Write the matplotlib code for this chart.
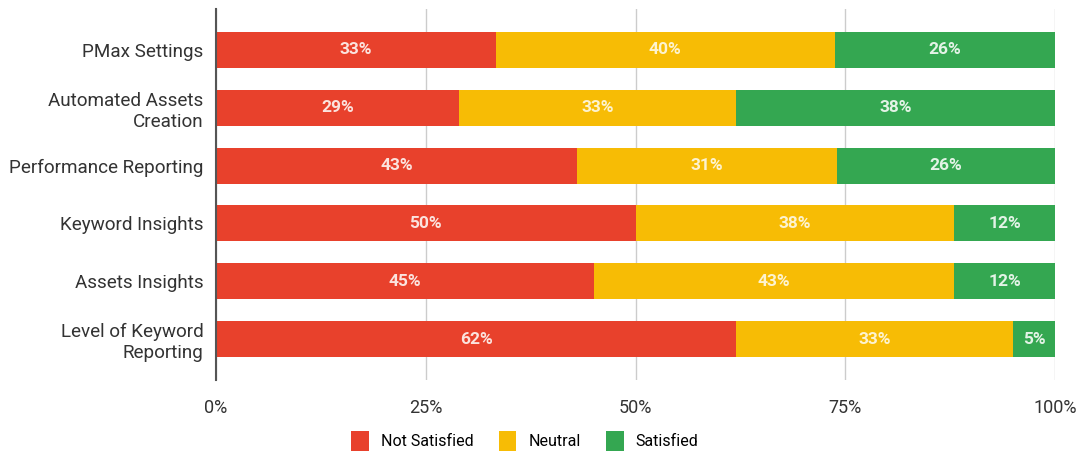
import matplotlib
matplotlib.use("Agg")
import matplotlib.pyplot as plt
import numpy as np
from matplotlib.patches import Patch

plt.rcParams['font.family'] = ['Roboto', 'DejaVu Sans']

categories = ["PMax Settings", "Automated Assets\nCreation", "Performance Reporting",
              "Keyword Insights", "Assets Insights", "Level of Keyword\nReporting"]
not_satisfied = [33, 29, 43, 50, 45, 62]
neutral = [40, 33, 31, 38, 43, 33]
satisfied = [26, 38, 26, 12, 12, 5]
series_names = ["Not Satisfied", "Neutral", "Satisfied"]
colors = ["#E8412C", "#F7BC05", "#34A751"]
label_colors = ["#FBE3DE", "#FDF3D0", "#E3F3E6"]
xticks = [0, 25, 50, 75, 100]
xtick_labels = ["0%", "25%", "50%", "75%", "100%"]

data = np.array([not_satisfied, neutral, satisfied], dtype=float)
totals = data.sum(axis=0)
norm = data / totals * 100

fig = plt.figure(figsize=(10.8, 4.51), dpi=100)
ax = fig.add_axes([0.2, 0.1585, 0.777, 0.8205])

y = np.arange(len(categories))
left = np.zeros(len(categories))
for i in range(3):
    ax.barh(y, norm[i], left=left, height=0.62, color=colors[i], zorder=3)
    for j in range(len(categories)):
        ax.text(left[j] + norm[i][j] / 2, y[j], f"{int(data[i][j])}%",
                ha="center", va="center", color=label_colors[i], fontsize=12.5,
                fontweight="bold", zorder=4)
    left += norm[i]

ax.set_ylim(5.7, -0.7)
ax.set_xlim(0, 100)
ax.set_yticks(y)
ax.set_yticklabels(categories, fontsize=13.6, color="#333333")
ax.set_xticks(xticks)
ax.set_xticklabels(xtick_labels, fontsize=13, color="#333333")
ax.tick_params(axis="y", length=0, pad=9)
ax.tick_params(axis="x", length=0, pad=14)
ax.grid(axis="x", color="#cccccc", linewidth=1, zorder=0)
for s in ["top", "right", "bottom"]:
    ax.spines[s].set_visible(False)
ax.spines["left"].set_color("#555555")
ax.spines["left"].set_linewidth(1.5)
ax.spines["left"].set_zorder(5)

handles = [Patch(facecolor=c, label=n) for c, n in zip(colors, series_names)]
fig.legend(handles=handles, loc="center", bbox_to_anchor=(0.486, 0.022), ncol=3,
           frameon=False, fontsize=11.5, handlelength=1.1, handleheight=1.5,
           columnspacing=1.6, handletextpad=0.75)

fig.savefig("out.png", dpi=100)
